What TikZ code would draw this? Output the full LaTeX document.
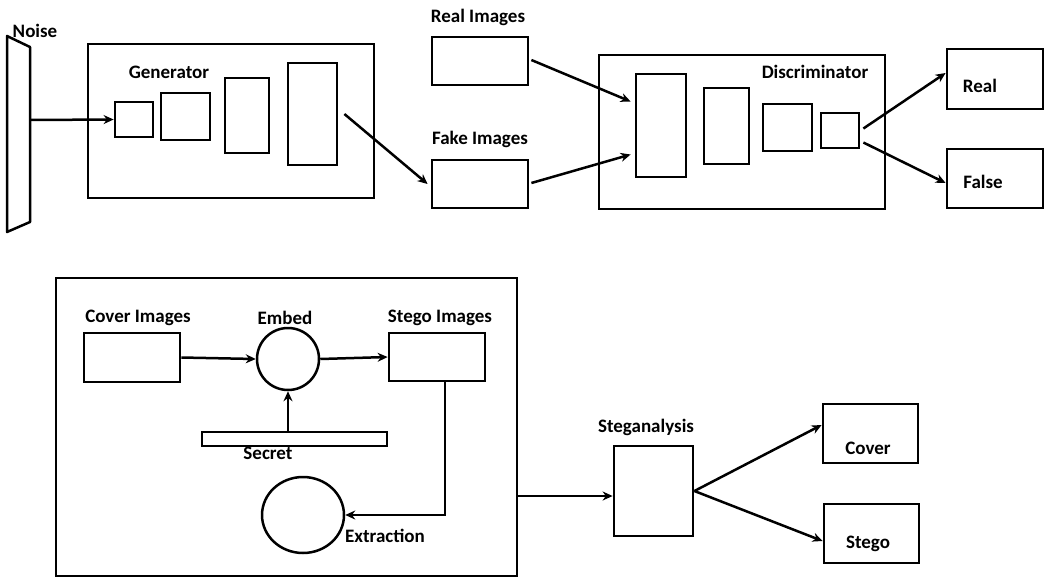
\documentclass[tikz,border=0pt]{standalone}
\usepackage{fontspec}
\setmainfont{Carlito}
\usepackage{tikz}
\usetikzlibrary{arrows.meta, positioning, calc, shapes.geometric}

\tikzset{
    blk/.style={draw=black, line width=2.8pt, inner sep=0pt, rectangle},
    lbl/.style={font=\fontsize{19}{21}\selectfont\bfseries, inner sep=0pt},
    arr/.style={line width=2.5pt, -{Stealth[length=10pt,width=9pt]}},
}

\begin{document}
\begin{tikzpicture}[x=1pt, y=-1pt]

    \useasboundingbox (0,0) rectangle (1045,579);

    % noise input
    \draw[line width=2.5pt, line join=round] (7,36) -- (30,47) -- (30,222) -- (7,232) -- cycle;
    \coordinate (noiseout) at (30,120);
    \node[lbl] (noiselbl) at (35,31) {Noise};

    % generator
    \node[blk, minimum width=286, minimum height=154] (gen) at (231,121) {};
    \node[lbl] (genlbl) at (169,72) {Generator};
    \node[blk, minimum width=38, minimum height=35] (g1) at (134,119.5) {};
    \node[blk, minimum width=49, minimum height=47] (g2) at (185.5,116.5) {};
    \node[blk, minimum width=44, minimum height=75] (g3) at (247,115.5) {};
    \node[blk, minimum width=49, minimum height=102] (g4) at (312.5,114) {};

    % real / fake images
    \node[blk, minimum width=96, minimum height=48] (real) at (480,61) {};
    \node[lbl] (reallbl) at (478,17) {Real Images};
    \node[blk, minimum width=96, minimum height=48] (fake) at (480,184) {};
    \node[lbl] (fakelbl) at (480,139) {Fake Images};

    % discriminator
    \node[blk, minimum width=286, minimum height=154] (disc) at (742,132) {};
    \node[lbl] (disclbl) at (815,72) {Discriminator};
    \node[blk, minimum width=50, minimum height=103] (d1) at (661,125.5) {};
    \node[blk, minimum width=45, minimum height=76] (d2) at (726.5,126) {};
    \node[blk, minimum width=49, minimum height=47] (d3) at (787.5,127.5) {};
    \node[blk, minimum width=38, minimum height=35] (d4) at (840,130.5) {};

    % outputs
    \node[blk, minimum width=96, minimum height=60] (realout) at (995,79) {};
    \node[lbl] (realoutlbl) at (980,86) {Real};
    \node[blk, minimum width=96, minimum height=59] (falseout) at (995,178.5) {};
    \node[lbl] (falseoutlbl) at (983,182) {False};

    % gan arrows
    \draw[arr] (noiseout) -- (g1.west);
    \draw[arr] ($(g4.east)+(6,0)$) -- ($(fake.west)+(-3,0)$);
    \draw[arr] ($(real.east)+(2,-1)$) -- ($(d1.west)+(-4,-24)$);
    \draw[arr] ($(fake.east)+(2,-1)$) -- ($(d1.west)+(-4,29)$);
    \draw[arr] ($(d4.east)+(3,-2)$) -- ($(realout.west)+(0,-6)$);
    \draw[arr] ($(d4.east)+(3,12)$) -- ($(falseout.west)+(0,4.5)$);

    % steganography frame
    \node[blk, minimum width=461, minimum height=298] (stegframe) at (286.5,427) {};

    \node[blk, minimum width=96, minimum height=49] (cover) at (132,357.5) {};
    \node[lbl] (coverlbl) at (138,318) {Cover Images};
    \node[draw, line width=2.5pt, circle, minimum size=62, inner sep=0pt] (embed) at (288,359) {};
    \node[lbl] (embedlbl) at (285,318) {Embed};
    \node[blk, minimum width=96, minimum height=48] (stegoimg) at (437,357) {};
    \node[lbl] (stegoimglbl) at (440,318) {Stego Images};
    \node[blk, line width=2.5pt, minimum width=185, minimum height=14] (secret) at (294.5,439) {};
    \node[lbl] (secretlbl) at (268,453) {Secret};
    \node[draw, line width=2.5pt, ellipse, minimum width=82, minimum height=76, inner sep=0pt] (extract) at (303,515) {};
    \node[lbl] (extractlbl) at (385,536) {Extraction};

    % embedding arrows
    \draw[arr] (cover.east) -- (embed.west);
    \draw[arr] (embed.east) -- (stegoimg.west);
    \draw[arr] (embed.south |- secret.north) -- (embed.south);
    \draw[arr] ($(stegoimg.south)+(8,0)$) |- (extract.east);

    % steganalysis
    \node[blk, minimum width=79, minimum height=90] (anal) at (653.5,491) {};
    \node[lbl] (anallbl) at (646,427) {Steganalysis};
    \node[blk, minimum width=95, minimum height=59] (coverout) at (870.5,433.5) {};
    \node[lbl] (coveroutlbl) at (868,448) {Cover};
    \node[blk, minimum width=95, minimum height=59] (stegoout) at (871.5,533.5) {};
    \node[lbl] (stegooutlbl) at (868,544) {Stego};

    \coordinate (frameout) at ($(stegframe.east)+(0,69)$);
    \draw[arr] (frameout) -- (frameout -| anal.west);
    \draw[arr] (anal.east) -- ($(coverout.west)+(0,-8.5)$);
    \draw[arr] (anal.east) -- ($(stegoout.west)+(0,7.5)$);

\end{tikzpicture}
\end{document}
